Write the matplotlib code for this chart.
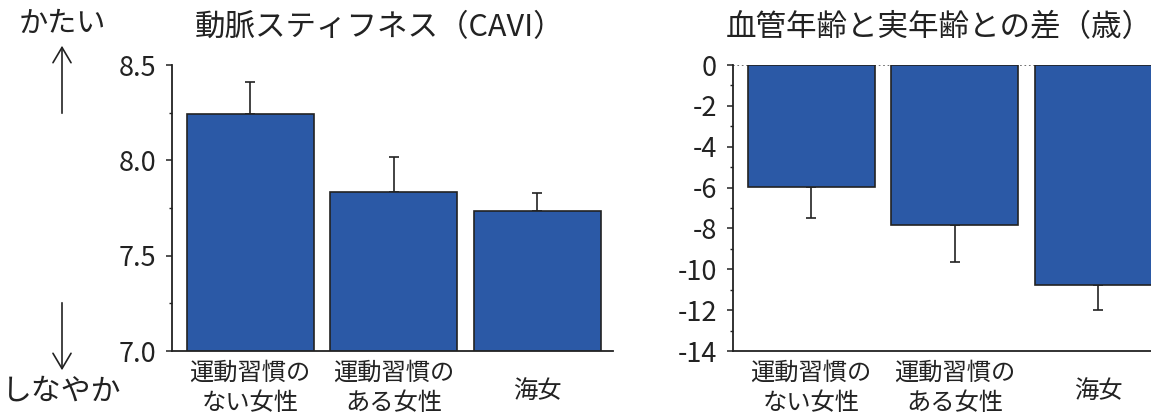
import matplotlib
matplotlib.use('Agg')
import matplotlib.pyplot as plt
import matplotlib.transforms as mtransforms
from matplotlib.ticker import MultipleLocator

plt.rcParams['font.family'] = ['Noto Sans CJK JP', 'DejaVu Sans']
plt.rcParams['axes.unicode_minus'] = False

# data
groups = ['運動習慣の\nない女性', '運動習慣の\nある女性', '海女']
cavi = [8.245, 7.836, 7.734]
cavi_err = [0.164, 0.181, 0.093]
age_diff = [-5.95, -7.81, -10.76]
age_diff_err = [1.55, 1.81, 1.22]

bar_color = '#2b59a6'
edge_color = '#222222'
text_color = '#222222'

fig = plt.figure(figsize=(11.51, 4.12), dpi=100)

# axes boxes in figure fraction (pixels measured on the reference)
W, H = 1151, 412
ax1 = fig.add_axes([172 / W, (H - 351) / H, 441 / W, 286 / H])
ax2 = fig.add_axes([733 / W, (H - 351) / H, 441 / W, 286 / H])

x = range(len(groups))


def style_axis(ax):
    for side in ['top', 'right']:
        ax.spines[side].set_visible(False)
    for side in ['left', 'bottom']:
        ax.spines[side].set_linewidth(1.3)
        ax.spines[side].set_color(edge_color)
    ax.tick_params(axis='y', which='major', length=4.5, width=1.1,
                   labelsize=19.5, pad=7, colors=text_color)
    ax.tick_params(axis='y', which='minor', length=2.2, width=1.0,
                   colors=text_color)
    ax.tick_params(axis='x', length=0, labelbottom=False)
    ax.set_xlim(-0.544, 2.526)
    trans = mtransforms.blended_transform_factory(ax.transData, ax.transAxes)
    for i, g in enumerate(groups):
        y = -0.129 if '\n' in g else -0.138
        ax.text(i, y, g, transform=trans, ha='center', va='center',
                fontsize=17.5, color=text_color, linespacing=1.25)


# left panel: arterial stiffness
ax1.bar(x, cavi, width=0.885, bottom=0, color=bar_color,
        edgecolor=edge_color, linewidth=1.2, zorder=2)
ax1.errorbar(x, cavi, yerr=[[0] * 3, cavi_err], fmt='none',
             ecolor=edge_color, elinewidth=1.2, capsize=3.5, capthick=1.2,
             zorder=1)
ax1.set_ylim(7.0, 8.5)
ax1.yaxis.set_major_locator(MultipleLocator(0.5))
ax1.yaxis.set_minor_locator(MultipleLocator(0.25))
ax1.yaxis.set_major_formatter(matplotlib.ticker.FormatStrFormatter('%.1f'))
style_axis(ax1)

# right panel: vascular age minus real age
ax2.axhline(0, color='#555555', linestyle=':', linewidth=1.2, zorder=0)
ax2.bar(x, age_diff, width=0.885, color=bar_color,
        edgecolor=edge_color, linewidth=1.2, zorder=2)
ax2.errorbar(x, age_diff, yerr=[age_diff_err, [0] * 3], fmt='none',
             ecolor=edge_color, elinewidth=1.2, capsize=3.5, capthick=1.2,
             zorder=1)
ax2.set_ylim(-14, 0)
ax2.yaxis.set_major_locator(MultipleLocator(2))
ax2.yaxis.set_minor_locator(MultipleLocator(1))
style_axis(ax2)

# titles
fig.text(380 / W, 1 - 28 / H, '動脈スティフネス（CAVI）', ha='center',
         va='center', fontsize=22, color=text_color)
fig.text(939 / W, 1 - 28 / H, '血管年齢と実年齢との差（歳）', ha='center',
         va='center', fontsize=22, color=text_color)

# hard / soft annotation on the left
fig.text(62 / W, 1 - 24 / H, 'かたい', ha='center', va='center',
         fontsize=21, color=text_color)
fig.text(62 / W, 1 - 391 / H, 'しなやか', ha='center', va='center',
         fontsize=21.5, color=text_color)
fig.add_artist(matplotlib.patches.FancyArrowPatch(
    (62 / W, 1 - 116 / H), (62 / W, 1 - 43 / H), transform=fig.transFigure,
    arrowstyle='->,head_length=11,head_width=6.5', mutation_scale=1,
    color=text_color, linewidth=1.2))
fig.add_artist(matplotlib.patches.FancyArrowPatch(
    (62 / W, 1 - 300 / H), (62 / W, 1 - 373 / H), transform=fig.transFigure,
    arrowstyle='->,head_length=11,head_width=6.5', mutation_scale=1,
    color=text_color, linewidth=1.2))

plt.savefig('out.png', dpi=100)
